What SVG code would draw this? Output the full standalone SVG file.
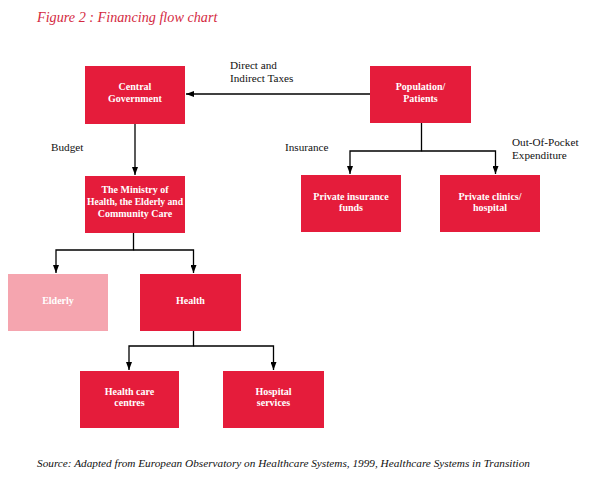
<svg xmlns="http://www.w3.org/2000/svg" width="593" height="479" viewBox="0 0 593 479">
<style>
.box{fill:#E51C3B}
.pale{fill:#F5A5AF}
.nt{font-family:"Liberation Serif","DejaVu Serif",serif;font-size:10px;fill:#fff;text-anchor:middle;font-weight:bold}
.lb{font-family:"Liberation Serif","DejaVu Serif",serif;font-size:11.2px;fill:#111}
.ln{fill:none;stroke:#000;stroke-width:1.3}
</style>
<defs>
<marker id="ah" markerWidth="8" markerHeight="6" refX="8" refY="3" orient="auto" markerUnits="userSpaceOnUse">
<path d="M0,0 L8,3 L0,6 Z" fill="#000"/>
</marker>
</defs>
<rect width="593" height="479" fill="#fff"/>
<text x="37" y="22" font-family="Liberation Serif, serif" font-style="italic" font-size="14.2" fill="#D42A3F">Figure 2 : Financing flow chart</text>

<g id="connectors">
<path class="ln" d="M370,94 H186" marker-end="url(#ah)"/>
<path class="ln" d="M135,124 V175" marker-end="url(#ah)"/>
<path class="ln" d="M421.5,123 V151 H350 V174" marker-end="url(#ah)"/>
<path class="ln" d="M421.5,151 H495.5 V174" marker-end="url(#ah)"/>
<path class="ln" d="M133.5,233 V250 H56 V273" marker-end="url(#ah)"/>
<path class="ln" d="M133.5,250 H193.5 V273" marker-end="url(#ah)"/>
<path class="ln" d="M193.5,331 V346 H129 V370" marker-end="url(#ah)"/>
<path class="ln" d="M193.5,346 H273.5 V370" marker-end="url(#ah)"/>
</g>

<g id="central">
<rect class="box" x="85" y="66" width="100" height="58"/>
<text class="nt" x="135" y="90">Central</text>
<text class="nt" x="135" y="102">Government</text>
</g>
<g id="population">
<rect class="box" x="370" y="66" width="101" height="57"/>
<text class="nt" x="420.5" y="90">Population/</text>
<text class="nt" x="420.5" y="102">Patients</text>
</g>
<g id="insurance-funds">
<rect class="box" x="301" y="175" width="100" height="57"/>
<text class="nt" x="351" y="200">Private insurance</text>
<text class="nt" x="351" y="211">funds</text>
</g>
<g id="clinics">
<rect class="box" x="440" y="175" width="100" height="57"/>
<text class="nt" x="490" y="200">Private clinics/</text>
<text class="nt" x="490" y="211">hospital</text>
</g>
<g id="ministry">
<rect class="box" x="85" y="176" width="100" height="57"/>
<text class="nt" x="135" y="193">The Ministry of</text>
<text class="nt" x="135" y="205" textLength="96" lengthAdjust="spacingAndGlyphs">Health, the Elderly and</text>
<text class="nt" x="135" y="217">Community Care</text>
</g>
<g id="elderly">
<rect class="pale" x="8" y="274" width="100" height="57"/>
<text class="nt" x="58" y="304">Elderly</text>
</g>
<g id="health">
<rect class="box" x="140" y="274" width="101" height="57"/>
<text class="nt" x="190.5" y="304">Health</text>
</g>
<g id="health-care-centres">
<rect class="box" x="80" y="371" width="99" height="57"/>
<text class="nt" x="129.5" y="395">Health care</text>
<text class="nt" x="129.5" y="406">centres</text>
</g>
<g id="hospital-services">
<rect class="box" x="223" y="371" width="101" height="57"/>
<text class="nt" x="273.5" y="395">Hospital</text>
<text class="nt" x="273.5" y="406">services</text>
</g>

<g id="labels">
<text class="lb" x="230" y="69">Direct and</text>
<text class="lb" x="230" y="82">Indirect Taxes</text>
<text class="lb" x="51" y="151">Budget</text>
<text class="lb" x="285" y="151">Insurance</text>
<text class="lb" x="512" y="146">Out-Of-Pocket</text>
<text class="lb" x="512" y="159">Expenditure</text>
</g>
<text x="37" y="467" font-family="Liberation Serif, serif" font-style="italic" font-size="10.5" fill="#111" textLength="493" lengthAdjust="spacingAndGlyphs">Source: Adapted from European Observatory on Healthcare Systems, 1999, Healthcare Systems in Transition</text>
</svg>
